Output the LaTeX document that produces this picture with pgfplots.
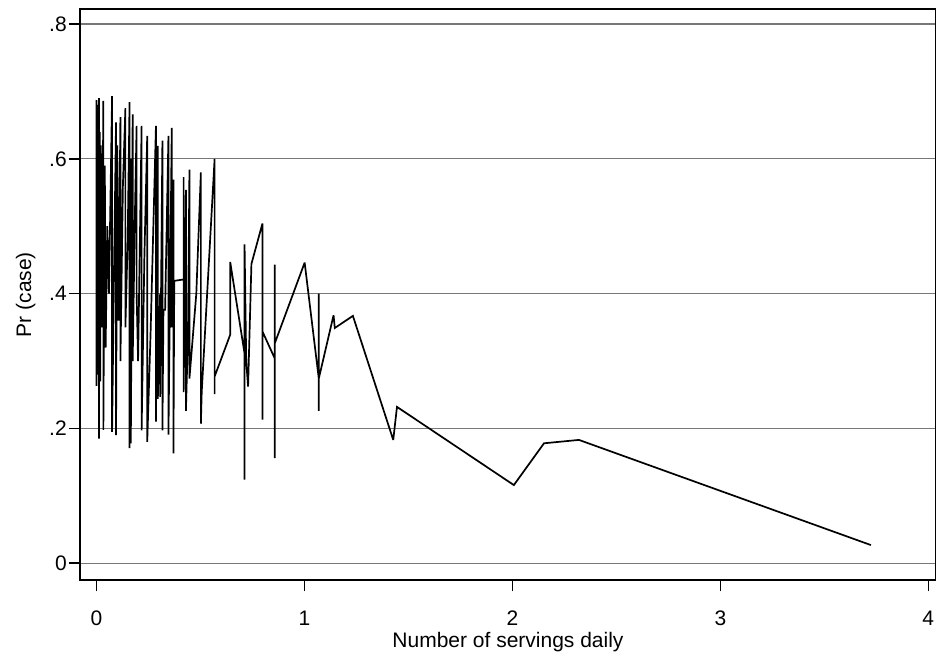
\documentclass[border=0pt]{standalone}
\usepackage{pgfplots}
\pgfplotsset{compat=1.18}
\usepackage{fontspec}
\setmainfont{Liberation Sans}
\definecolor{gridgray}{RGB}{120,120,120}

\begin{document}
\begin{tikzpicture}
\begin{axis}[
    scale only axis,
    width=428pt, height=285.35pt,
    xmin=-0.0793, xmax=4.037,
    ymin=-0.0248, ymax=0.8218,
    axis line style={black, line width=0.8pt},
    xtick={0,1,2,3,4}, xticklabels={0,1,2,3,4},
    ytick={0,0.2,0.4,0.6,0.8}, yticklabels={0,.2,.4,.6,.8},
    tick align=outside, tick pos=left,
    major tick length=5.6pt,
    tick style={black, line width=0.8pt},
    ymajorgrids,
    grid style={gridgray, line width=0.6pt},
    tick label style={font=\fontsize{10.5}{12}\selectfont},
    xticklabel style={yshift=-6.5pt},
    yticklabel style={xshift=2.5pt},
    xlabel={Number of servings daily},
    ylabel={Pr (case)},
    xlabel style={font=\fontsize{10.5}{12}\selectfont, yshift=4pt},
    ylabel style={font=\fontsize{10.5}{12}\selectfont},
    extra description/.code={
        \coordinate (bl) at (rel axis cs:0,0);
        \coordinate (tr) at (rel axis cs:1,1);
    },
]
\addplot[black, line width=0.85pt, line join=miter, miter limit=4] coordinates {
(0.000,0.687) (0.000,0.263) (0.001,0.620) (0.002,0.560) (0.002,0.300)
(0.004,0.680) (0.006,0.280) (0.007,0.660) (0.008,0.640) (0.009,0.300)
(0.012,0.690) (0.012,0.185) (0.014,0.500) (0.016,0.640) (0.018,0.270)
(0.020,0.620) (0.022,0.600) (0.026,0.350) (0.033,0.686) (0.033,0.198)
(0.040,0.590) (0.044,0.320) (0.052,0.500) (0.060,0.400) (0.075,0.693)
(0.075,0.195) (0.085,0.450) (0.094,0.654) (0.094,0.190) (0.100,0.620)
(0.106,0.360) (0.115,0.662) (0.115,0.300) (0.127,0.560) (0.139,0.675)
(0.139,0.350) (0.150,0.480) (0.159,0.684) (0.159,0.171) (0.165,0.600)
(0.165,0.178) (0.174,0.666) (0.174,0.300) (0.185,0.520) (0.193,0.649)
(0.193,0.400) (0.200,0.300) (0.217,0.649) (0.217,0.197) (0.230,0.450)
(0.244,0.634) (0.244,0.180) (0.260,0.340) (0.286,0.649) (0.286,0.210)
(0.295,0.619) (0.295,0.244) (0.306,0.400) (0.306,0.247) (0.317,0.627)
(0.317,0.197) (0.322,0.376) (0.330,0.376) (0.346,0.634) (0.346,0.191)
(0.352,0.354) (0.362,0.646) (0.362,0.350) (0.370,0.569) (0.370,0.163)
(0.374,0.419) (0.419,0.421) (0.419,0.573) (0.419,0.254) (0.430,0.554)
(0.430,0.226) (0.440,0.340) (0.447,0.584) (0.447,0.274) (0.480,0.400)
(0.502,0.580) (0.502,0.207) (0.506,0.254) (0.568,0.600) (0.568,0.251)
(0.568,0.277) (0.643,0.339) (0.643,0.447) (0.712,0.311) (0.712,0.124)
(0.712,0.473) (0.720,0.300) (0.729,0.262) (0.745,0.444) (0.798,0.504)
(0.798,0.213) (0.798,0.344) (0.857,0.304) (0.857,0.443) (0.857,0.156)
(0.857,0.326) (1.001,0.446) (1.069,0.274) (1.069,0.400) (1.069,0.226)
(1.069,0.274) (1.140,0.368) (1.146,0.349) (1.233,0.367) (1.427,0.183)
(1.445,0.232) (2.007,0.116) (2.152,0.178) (2.320,0.183) (3.724,0.027)
};
\end{axis}
\pgfresetboundingbox
\path (bl) ++(-40pt,-38pt) rectangle ([shift={(0pt,4.65pt)}]tr);
\end{tikzpicture}
\end{document}
